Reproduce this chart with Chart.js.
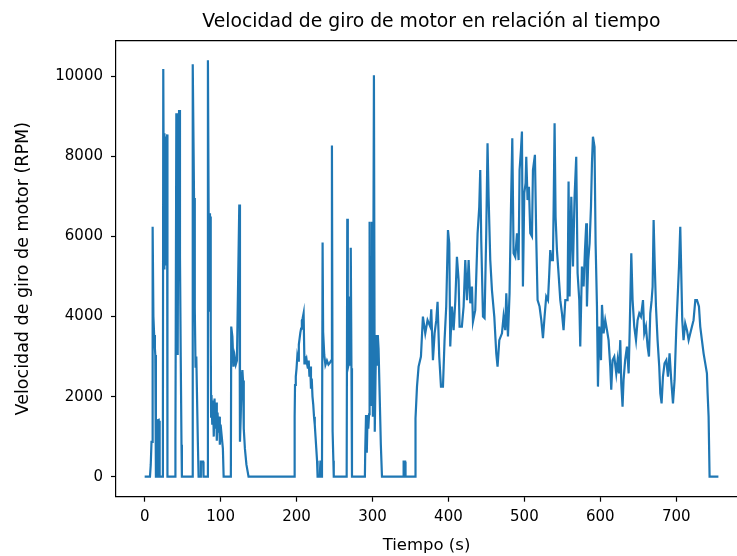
<!DOCTYPE html>
<html lang="es">
<head>
<meta charset="utf-8">
<title>Velocidad de giro de motor</title>
<script src="https://cdn.jsdelivr.net/npm/chart.js@4.4.1/dist/chart.umd.min.js"></script>
<style>
  html, body { margin: 0; padding: 0; background: #fff; overflow: hidden; }
  #wrap { width: 737px; height: 556px; }
</style>
</head>
<body>
<div id="wrap"><canvas id="rpmChart" width="737" height="556"></canvas></div>
<script>
// === Datos ===
const tiempo = [
  0, 7, 8, 9, 10, 10.5, 11.5, 12.5, 13.5, 14, 14.8, 16.5, 17, 18.5, 19, 19.5, 20, 23.5, 24, 24.5,
  25.5, 26, 27, 27.5, 28.5, 29.5, 30, 40, 40.5, 41.7, 42.5, 43.5, 44, 45.3, 46.5, 47.5, 48.5, 49,
  62.5, 63, 63.6, 64.5, 65, 66, 67, 68, 70, 71, 73.5, 74, 77, 77.5, 82.5, 83.3, 84.5, 85.5, 86, 86.5,
  87, 87.5, 88, 89, 90, 91, 92, 93, 94, 95, 96, 97, 98, 99, 100, 101.5, 103, 104,
  113.5, 114, 115.5, 117, 118.5, 120, 121.5, 124.6, 125.5, 126.5, 127.5, 128.7, 129.5, 130.5, 132, 134, 136.8,
  197, 197.5, 198, 199, 200, 201, 202, 203, 204, 205, 206, 207, 208, 209.3, 210.4, 211, 212, 213, 214,
  215, 216, 217, 218, 219, 220, 221, 222, 223, 224, 225, 226, 227, 227.7, 230.5, 231.5, 232.5, 233.5,
  234.3, 235, 236.5, 238, 240, 242, 244, 245.5, 246.6, 247.5, 248.5, 249,
  266, 266.8, 267.5, 268.5, 269.5, 270.5, 271.4, 272.3, 273,
  290, 290.5, 291.5, 292.5, 293.5, 294.5, 295.5, 296.2, 297, 297.8, 298.5, 299.3, 300.2, 300.5, 301.9,
  303, 304, 305, 306, 307, 308, 309.5, 311, 312.5,
  340.5, 341, 343, 343.5, 356, 356.3, 357, 358.6, 360.7, 363.8, 366.4, 369.5, 372.5, 376, 377.4, 379.6,
  381.8, 384, 385.7, 387.9, 390.2, 392.8, 394.9, 397.1, 399.4, 401.1, 402.4, 404.6, 406.8, 409, 411.2,
  413.4, 414.7, 417.7, 420, 422.2, 424.4, 426.6, 428.8, 431, 432.3, 435.3, 438.4, 440.6, 441.9, 443.2,
  445.5, 447.6, 449.8, 451.5, 452.9, 455.1, 457.3, 460.4, 463, 464.7, 467, 470.5, 472.6, 474.8, 476.2,
  478.4, 480.5, 482.3, 484.1, 485.8, 488, 490.3, 492.4, 493.7, 495.5, 496.8, 498.1, 499.9, 501.6, 502.5,
  504.2, 506, 507.8, 510, 511.3, 513.9, 515.7, 517.4, 520, 522.3, 524.5, 526.6, 528.8, 531.1, 532.8,
  534.1, 535.8, 537.6, 538.5, 539.8, 541.1, 542.9, 545, 547.3, 549.5, 551.6, 553.9, 556.9, 558.2, 559.5,
  561.8, 564, 566.1, 568.3, 570.1, 572.3, 573.6, 575.8, 578, 579.8, 581.5, 582.4, 584.1, 585.9, 587.7,
  589, 590.3, 592.4, 593.8, 595.6, 596.9, 598.6, 600.9, 602.2, 604.3, 606.5, 608.8, 610.9, 613.1, 614.4,
  616.1, 618.4, 621, 622.8, 624.5, 626.3, 627.6, 629.3, 630.6, 632.7, 635.1, 637.3, 638.6, 640.8, 642.5,
  644.7, 647, 649.1, 651.3, 653.5, 656.2, 657.9, 660.1, 662.3, 664.1, 665.8, 667.6, 668.9, 670.2, 671.5,
  673.3, 675.4, 677.6, 679, 680.7, 682.5, 684.6, 686.9, 689.1, 691.2, 693.4, 695.7, 697.8, 700, 701.7,
  703.6, 705.3, 706.6, 707.9, 709.6, 711.8, 714.1, 716.3, 718.5, 720.7, 722.8, 725.1, 727.3, 729.9, 731.6,
  733.8, 736, 738.2, 740.4, 741.3, 742.6, 743.9, 755.5
];

const rpm = [
  0, 0, 300, 870, 870, 6240, 4000, 3540, 3200, 3040, 0, 0, 1410, 1420, 300, 1400, 0, 0, 1000, 10180,
  5200, 8580, 5300, 8500, 6000, 8550, 0, 0, 870, 9080, 5000, 3040, 6000, 9160, 5500, 3000, 800, 0,
  0, 1000, 10300, 8000, 6960, 4200, 2720, 3000, 900, 0, 0, 375, 375, 0, 0, 10400, 5500, 6580, 4120, 6500,
  3500, 1500, 2040, 1300, 1900, 1000, 1950, 1200, 1850, 900, 1600, 1100, 1500, 800, 1300, 1000, 700, 0,
  0, 3750, 3500, 2750, 3000, 2800, 2900, 6800, 874, 1500, 2400, 2660, 2400, 1200, 700, 300, 0,
  0, 1500, 2290, 2500, 2707, 3000, 2900, 3300, 3450, 3600, 3700, 3900, 3950, 4080, 2830, 3000, 2900, 2950, 2800,
  2700, 2900, 2500, 2750, 2200, 2450, 2000, 1800, 1500, 1300, 1000, 700, 400, 0, 0, 400, 0, 200,
  5850, 3620, 3040, 2790, 2900, 2800, 2850, 2900, 8270, 1120, 400, 0,
  0, 6440, 2710, 2800, 4500, 2800, 5720, 2710, 0,
  0, 700, 1540, 600, 1500, 1200, 1560, 6370, 1800, 5500, 1790, 6370, 3000, 1500, 10030,
  1120, 2500, 3540, 2800, 3540, 3200, 2000, 800, 0,
  0, 375, 375, 0, 0, 960, 1460, 2250, 2750, 3000, 4000, 3580, 3910, 3750, 4180, 2910,
  3580, 3910, 4370, 3000, 2250, 2250, 3410, 4250, 6160, 5830, 3250, 4250, 3660, 4370, 5490,
  4910, 3750, 3750, 4250, 5410, 4410, 5410, 4330, 4750, 3870, 4160, 6080, 6740, 7660, 5910,
  4000, 3960, 6080, 8330, 6990, 5410, 4660, 4000, 3080, 2750, 3410, 3580, 4000, 3660, 4580,
  3500, 4580, 6660, 8450, 5580, 5490, 6080, 5410, 7660, 8160, 8620, 4750, 7080, 7330, 7990,
  6910, 7240, 6080, 6000, 7660, 8040, 5910, 4410, 4250, 3910, 3460, 4000, 4500, 4410, 5080,
  5660, 5410, 5410, 6660, 8830, 6490, 5660, 5080, 4410, 4080, 3660, 4410, 4410, 7370, 4500,
  6990, 5250, 6990, 7990, 5080, 4410, 3250, 5250, 4750, 5660, 6330, 4250, 5410, 5830, 6740,
  7830, 8490, 8240, 5830, 4250, 2250, 3750, 2910, 4290, 3580, 3910, 3660, 3410, 2750, 2170,
  2910, 3000, 2580, 2910, 2580, 3410, 2330, 1750, 2410, 2910, 3250, 2580, 3580, 5580, 4410,
  3750, 3410, 3910, 4080, 4000, 4410, 3580, 3750, 3250, 3000, 4080, 4410, 4750, 6410, 5410,
  4250, 3410, 2750, 2080, 1830, 2500, 2830, 2910, 2500, 3080, 2410, 1830, 2410, 3660, 4410,
  5250, 6240, 5080, 3910, 3410, 3830, 3660, 3410, 3580, 3750, 3910, 4410, 4410, 4250, 3750,
  3410, 3080, 2830, 2580, 2080, 1500, 0, 0
];

const ticksX = [0, 100, 200, 300, 400, 500, 600, 700];
const ticksY = [0, 2000, 4000, 6000, 8000, 10000];

const titulo = 'Velocidad de giro de motor en relación al tiempo';
const etiquetaX = 'Tiempo (s)';
const etiquetaY = 'Velocidad de giro de motor (RPM)';

// === Estilo ===
const FONT = 'DejaVu Sans';
const AZUL = '#1f77b4';
const X_FIN_EJE = 792.75; // borde derecho del eje (fuera de la imagen recortada)

// marco superior + título centrado sobre el eje completo
const marcoYTitulo = {
  id: 'marcoYTitulo',
  afterDraw(chart) {
    const { ctx, chartArea, scales } = chart;
    ctx.save();
    ctx.strokeStyle = '#000';
    ctx.lineWidth = 1.2;
    ctx.beginPath();
    ctx.moveTo(chartArea.left, chartArea.top);
    ctx.lineTo(chartArea.right, chartArea.top);
    ctx.stroke();

    const cx = (chartArea.left + scales.x.getPixelForValue(X_FIN_EJE)) / 2;
    ctx.fillStyle = '#000';
    ctx.font = `18.8px "${FONT}"`;
    ctx.textAlign = 'center';
    ctx.textBaseline = 'middle';
    ctx.fillText(titulo, cx, 22);
    ctx.restore();
  }
};

// === Chart.js ===
const puntos = tiempo.map((t, i) => ({ x: t, y: rpm[i] }));

new Chart(document.getElementById('rpmChart'), {
  type: 'line',
  data: {
    datasets: [{
      data: puntos,
      borderColor: AZUL,
      borderWidth: 2.2,
      pointRadius: 0,
      tension: 0,
      fill: false
    }]
  },
  options: {
    responsive: false,
    animation: false,
    layout: { padding: { top: 40.7, left: 0, right: 0, bottom: 0 } },
    plugins: {
      legend: { display: false },
      tooltip: { enabled: false },
      title: { display: false }
    },
    scales: {
      x: {
        type: 'linear',
        min: -37.75,
        max: 780,
        afterBuildTicks: s => { s.ticks = ticksX.map(v => ({ value: v })); },
        afterFit: s => { s.height = 59.3; },
        ticks: { color: '#000', font: { family: FONT, size: 15 }, padding: 6, maxRotation: 0, callback: v => String(v) },
        grid: { drawOnChartArea: false, tickLength: 5, tickColor: '#000', tickWidth: 1.2 },
        border: { color: '#000', width: 1.2 },
        title: { display: true, text: etiquetaX, color: '#000', font: { family: FONT, size: 16.5 }, padding: { top: 0, bottom: 0 } }
      },
      y: {
        min: -500,
        max: 10890,
        afterBuildTicks: s => { s.ticks = ticksY.map(v => ({ value: v })); },
        afterFit: s => { s.width = 116; },
        ticks: { color: '#000', font: { family: FONT, size: 15 }, padding: 8, callback: v => String(v) },
        grid: { drawOnChartArea: false, tickLength: 5, tickColor: '#000', tickWidth: 1.2 },
        border: { color: '#000', width: 1.2 },
        title: { display: true, text: etiquetaY, color: '#000', font: { family: FONT, size: 17.5 }, padding: { top: 13, bottom: 0 } }
      }
    }
  },
  plugins: [marcoYTitulo]
});
</script>
</body>
</html>
